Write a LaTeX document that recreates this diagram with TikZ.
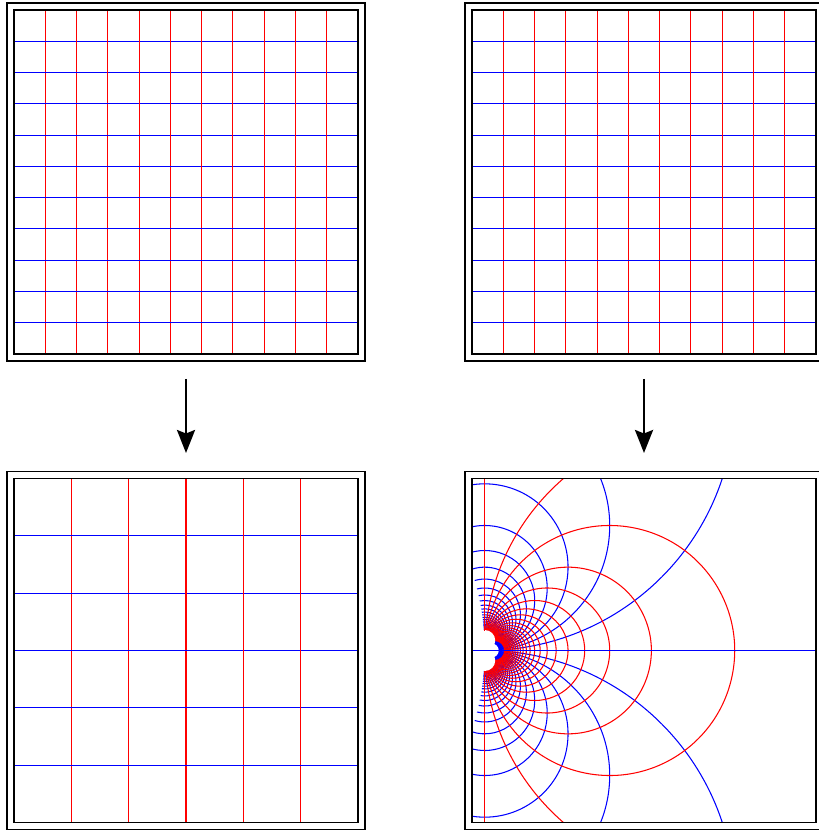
\documentclass[tikz,border=0pt]{standalone}
\usepackage{tikz}
\usetikzlibrary{arrows.meta}
\definecolor{gridX}{RGB}{255, 0, 0}
\definecolor{gridY}{RGB}{0, 0, 255}

\begin{document}
\begin{tikzpicture}[>={Stealth[length=0.46cm, width=0.36cm, inset=0.07cm]}, x=0.02cm, y=-0.02cm,
    redln/.style={gridX, line width=0.6pt},
    blueln/.style={gridY, line width=0.6pt},
    box/.style={line width=0.6pt}]
  \useasboundingbox (0,0) rectangle (818,830);
  % Fine grid, left
  \begin{scope}[shift={(14,10)}]
    \foreach \i in {1,...,10} {
      \draw[redln] (\i*344/11, 0) -- (\i*344/11, 344);
      \draw[blueln] (0, \i*344/11) -- (344, \i*344/11);
    }
    \draw[box] (0,0) rectangle (344,344);
    \draw[box] (-7,-7) rectangle (351,351);
  \end{scope}
  % Fine grid, right
  \begin{scope}[shift={(472,10)}]
    \foreach \i in {1,...,10} {
      \draw[redln] (\i*344/11, 0) -- (\i*344/11, 344);
      \draw[blueln] (0, \i*344/11) -- (344, \i*344/11);
    }
    \draw[box] (0,0) rectangle (344,344);
    \draw[box] (-7,-7) rectangle (351,351);
  \end{scope}
  % Arrows
  \coordinate (L1) at (186,379);
  \coordinate (L2) at (186,453);
  \coordinate (R1) at (644,379);
  \coordinate (R2) at (644,453);
  \draw[->, line width=1.5pt] (L1) -- (L2);
  \draw[->, line width=1.5pt] (R1) -- (R2);
  % Scaled grid
  \begin{scope}[shift={(14,478.5)}]
    \foreach \i in {1,...,5} {
      \draw[redln] (\i*344/6, 0) -- (\i*344/6, 344);
      \draw[blueln] (0, \i*344/6) -- (344, \i*344/6);
    }
    \draw[box] (0,0) rectangle (344,344);
    \draw[box] (-7,-7) rectangle (351,351);
  \end{scope}
  % Inverted grid
  \begin{scope}[shift={(472,478.5)}]
    \coordinate (O) at (12.7,172);
    \begin{scope}
      \clip (0,0) rectangle (344,344);
      \foreach \d in {1,...,25} {
        \pgfmathsetmacro{\rad}{250/\d}
        \pgfmathsetmacro{\ang}{2*atan(\d/40)}
        \pgfmathsetmacro{\over}{2*atan(1/\d)}
        \draw[blueln] (O) ++(0,-\rad) ++(-90-\over:\rad) arc[start angle=-90-\over, end angle=90-\ang, radius=\rad];
        \draw[blueln] (O) ++(0,\rad) ++(-90+\ang:\rad) arc[start angle=-90+\ang, end angle=90+\over, radius=\rad];
      }
      \foreach \c in {1.1,2,3,...,25} {
        \pgfmathsetmacro{\rad}{250/\c}
        \pgfmathsetmacro{\ang}{2*atan(25/\c)}
        \draw[redln] (O) ++(\rad,0) ++(-\ang:\rad) arc[start angle=-\ang, end angle=\ang, radius=\rad];
      }
      % hole round the pole
      \fill[white] (O) ++(0,-10) circle[radius=10.5];
      \fill[white] (O) ++(0,10) circle[radius=10.5];
      \fill[white] (O) ++(7,0) circle[radius=7];
      \draw[redln] (O) ++(0,-20) -- ++(0,-200);
      \draw[redln] (O) ++(0,20) -- ++(0,200);
      \draw[blueln] (0,172) -- (344,172);
    \end{scope}
    \draw[box] (0,0) rectangle (344,344);
    \draw[box] (-7,-7) rectangle (351,351);
  \end{scope}
\end{tikzpicture}
\end{document}
